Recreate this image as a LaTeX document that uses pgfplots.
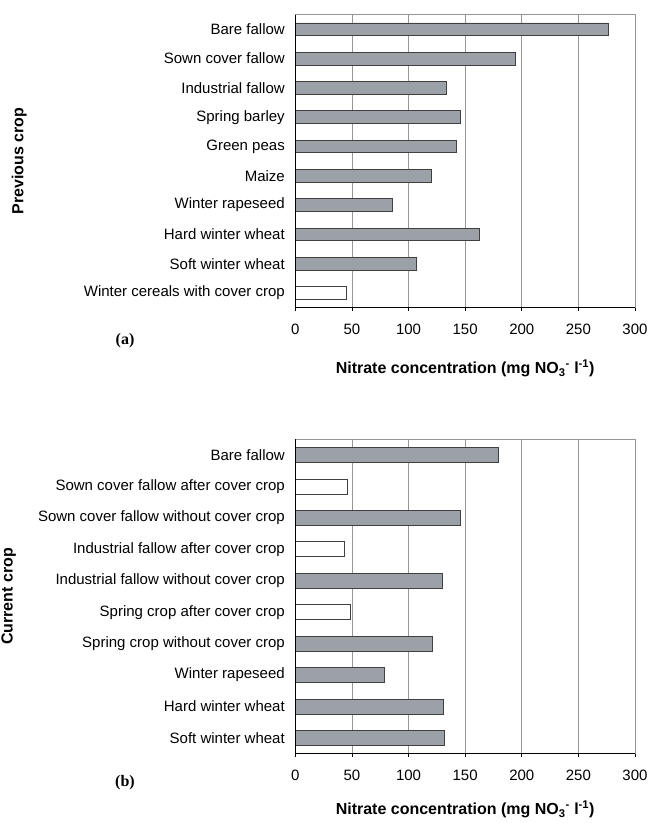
\documentclass[border=0pt]{standalone}
\usepackage{pgfplots}
\pgfplotsset{compat=1.18}
\usepackage{fontspec}
\setmainfont{Liberation Sans}
\newfontfamily\timesfont{Liberation Serif}

\definecolor{barfill}{RGB}{155,161,166}
\definecolor{baredge}{RGB}{64,64,64}
\definecolor{gridgray}{RGB}{150,150,150}

\pgfplotsset{
  cropbars/.style={
    scale only axis, width=339.7bp,
    xmin=0, xmax=300, xtick={0,50,...,300},
    ymin=-0.5, ymax=9.5, ytick={0,...,9},
    xbar, bar shift=0pt,
    xmajorgrids, grid style={gridgray, line width=0.8bp},
    axis line style={gridgray, line width=0.8bp},
    xtick pos=lower, ytick style={draw=none},
    tick align=outside, major tick length=3bp,
    xtick style={black, line width=0.8bp},
    /pgf/number format/assume math mode=true,
    tick label style={font=\fontsize{15bp}{18bp}\selectfont},
    xticklabel style={yshift=-10bp},
    yticklabel style={xshift=-4bp},
    label style={font=\fontsize{16bp}{19bp}\selectfont\bfseries},
    xlabel={Nitrate concentration (mg NO\textsubscript{3}\textsuperscript{-} l\textsuperscript{-1})},
  },
  graybar/.style={fill=barfill, draw=baredge, line width=0.8bp},
  whitebar/.style={fill=white, draw=baredge, line width=0.8bp},
}

\begin{document}
\begin{tikzpicture}
\path[use as bounding box] (0,0) rectangle (650bp,-823bp);

% (a) previous crop
\begin{axis}[cropbars, name=pa,
    at={(295.3bp,-14.65bp)}, anchor=north west,
    height=293bp, bar width=12.7bp,
    yticklabels={Winter cereals with cover crop, Soft winter wheat, Hard winter wheat,
      Winter rapeseed, Maize, Green peas, Spring barley, Industrial fallow,
      Sown cover fallow, Bare fallow},
    ylabel={Previous crop},
    ylabel style={at={([xshift=-276bp]axis description cs:0,0.5)}, anchor=center},
    xlabel style={at={([yshift=-61bp]axis description cs:0.5,0)}, anchor=center},
]
\addplot[graybar] coordinates {
  (107.2,1) (162.8,2) (86,3) (120.4,4) (142.5,5) (145.8,6) (133,7) (194,8) (276.5,9)
};
\addplot[whitebar] coordinates {(45,0)};
\end{axis}
\draw[black, line width=0.8bp] (pa.north west) -- (pa.south west) -- (pa.south east);
\node[font=\timesfont\bfseries\fontsize{16bp}{19bp}\selectfont] at (125bp,-341bp) {(a)};

% (b) current crop
\begin{axis}[cropbars, name=pb,
    at={(295.3bp,-439.3bp)}, anchor=north west,
    height=314.4bp, bar width=15bp,
    yticklabels={Soft winter wheat, Hard winter wheat, Winter rapeseed,
      Spring crop without cover crop, Spring crop after cover crop,
      Industrial fallow without cover crop, Industrial fallow after cover crop,
      Sown cover fallow without cover crop, Sown cover fallow after cover crop,
      Bare fallow},
    ylabel={Current crop},
    ylabel style={at={([xshift=-286.5bp]axis description cs:0,0.5)}, anchor=center},
    xlabel style={at={([yshift=-56bp]axis description cs:0.5,0)}, anchor=center},
]
\addplot[graybar] coordinates {
  (131.6,0) (130.7,1) (78.3,2) (121,3) (129.9,5) (145.8,7) (179,9)
};
\addplot[whitebar] coordinates {(48.3,4) (43.3,6) (46.2,8)};
\end{axis}
\draw[black, line width=0.8bp] (pb.north west) -- (pb.south west) -- (pb.south east);
\node[font=\timesfont\bfseries\fontsize{16bp}{19bp}\selectfont] at (125bp,-783bp) {(b)};
\end{tikzpicture}
\end{document}
